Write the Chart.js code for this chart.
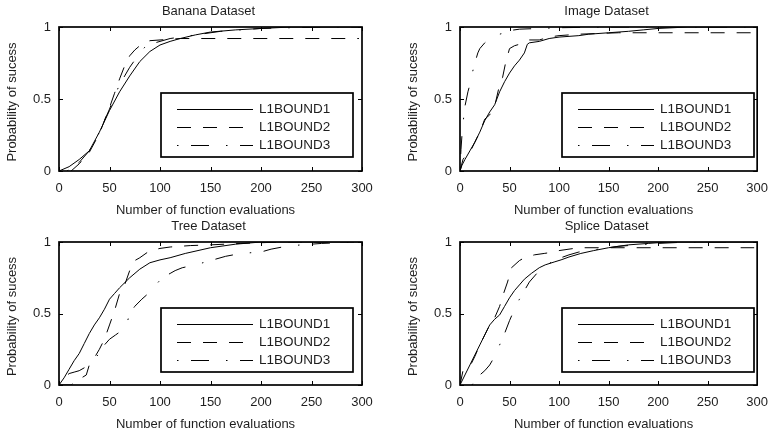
<!DOCTYPE html>
<html><head><meta charset="utf-8">
<script src="https://cdn.jsdelivr.net/npm/chart.js@4.4.0/dist/chart.umd.min.js"></script>
<style>
html,body{margin:0;padding:0;background:#fff;width:778px;height:436px;overflow:hidden}
canvas{position:absolute;left:0;top:0}
</style>
</head><body>
<canvas id="c0" width="778" height="436"></canvas>
<canvas id="c1" width="778" height="436"></canvas>
<canvas id="c2" width="778" height="436"></canvas>
<canvas id="c3" width="778" height="436"></canvas>
<script>
// ---- labels & ticks ----
const seriesLabels = ['L1BOUND1', 'L1BOUND2', 'L1BOUND3'];
const xTicks = [0, 50, 100, 150, 200, 250, 300];
const yTicks = [0, 0.5, 1];
const yTickLabels = ['0', '0.5', '1'];
const xTitle = 'Number of function evaluations';
const yTitle = 'Probability of sucess';

// ---- Banana Dataset ----
const banX1 = [0,10,20,30,40,50,60,70,80,90,100,110,120,135,150,175,200,230,297];
const banY1 = [0,0.03,0.08,0.14,0.27,0.42,0.55,0.66,0.76,0.83,0.875,0.9,0.92,0.945,0.965,0.98,0.99,1,1];
const banX2 = [12,20,30,40,50,55,60,65,70,75,80,85,90,100,110,120,297];
const banY2 = [0,0.05,0.13,0.26,0.44,0.54,0.64,0.73,0.8,0.84,0.87,0.89,0.905,0.91,0.915,0.92,0.92];
const banX3 = [8,15,20,30,40,50,55,60,65,70,75,80,85,90,100,110,120,140,160,180,200,230,260,297];
const banY3 = [0,0.03,0.06,0.14,0.27,0.43,0.52,0.6,0.66,0.72,0.77,0.82,0.86,0.88,0.9,0.92,0.93,0.95,0.97,0.98,0.99,0.995,1,1];

// ---- Image Dataset ----
const imgX1 = [0,2,5,10,15,20,25,30,35,40,45,50,55,60,65,68,70,80,90,100,120,130,150,170,185,200,230,297];
const imgY1 = [0,0.04,0.08,0.14,0.2,0.27,0.35,0.41,0.46,0.55,0.62,0.68,0.73,0.77,0.82,0.88,0.89,0.9,0.92,0.93,0.94,0.95,0.96,0.97,0.98,0.99,1,1];
const imgX2 = [0,3,5,10,15,20,25,30,35,40,43,46,50,55,60,70,80,90,100,120,140,160,297];
const imgY2 = [0,0.08,0.1,0.13,0.2,0.27,0.36,0.39,0.45,0.6,0.65,0.75,0.85,0.87,0.88,0.91,0.91,0.93,0.94,0.95,0.955,0.96,0.96];
const imgX3 = [0,1,2,3,5,8,10,12,15,18,20,25,30,35,40,45,50,60,80,100,150,297];
const imgY3 = [0.02,0.15,0.25,0.33,0.45,0.55,0.6,0.67,0.75,0.82,0.85,0.89,0.92,0.935,0.95,0.96,0.975,0.985,0.99,0.995,1,1];

// ---- Tree Dataset ----
const treX1 = [0,5,10,15,20,25,30,35,40,45,50,55,60,70,80,90,100,110,125,150,175,200,297];
const treY1 = [0,0.05,0.11,0.17,0.22,0.29,0.36,0.42,0.47,0.53,0.6,0.64,0.68,0.75,0.81,0.855,0.875,0.89,0.92,0.96,0.985,1,1];
const treX2 = [0,12,20,27,30,35,40,45,50,55,60,65,70,75,80,90,100,110,130,150,180,220,297];
const treY2 = [0,0,0.04,0.07,0.14,0.19,0.25,0.32,0.42,0.52,0.64,0.7,0.8,0.87,0.89,0.94,0.955,0.965,0.975,0.98,0.99,1,1];
const treX3 = [0,5,10,15,20,25,30,40,45,50,56,60,66,70,75,82,90,96,102,110,115,122,135,150,165,180,200,210,225,240,260,297];
const treY3 = [0,0.05,0.08,0.09,0.1,0.12,0.15,0.22,0.28,0.32,0.35,0.37,0.4,0.5,0.55,0.6,0.65,0.7,0.75,0.78,0.8,0.82,0.84,0.87,0.9,0.92,0.93,0.95,0.97,0.98,0.99,1];

// ---- Splice Dataset ----
const splX1 = [0,5,10,15,20,25,30,35,40,45,50,55,60,65,72,80,86,95,102,110,122,135,150,170,190,210,297];
const splY1 = [0,0.07,0.14,0.21,0.28,0.35,0.42,0.46,0.49,0.55,0.61,0.66,0.7,0.74,0.78,0.82,0.84,0.86,0.875,0.895,0.92,0.94,0.96,0.98,0.99,1,1];
const splX2 = [0,3,10,15,20,25,30,35,40,43,48,52,60,65,70,75,85,95,100,120,297];
const splY2 = [0,0.1,0.13,0.2,0.28,0.35,0.42,0.47,0.55,0.62,0.72,0.82,0.87,0.89,0.9,0.91,0.92,0.93,0.94,0.96,0.96];
const splX3 = [12,15,20,25,30,35,40,45,50,55,60,65,70,80,90,100,110,120,140,160,180,200,230,297];
const splY3 = [0,0.03,0.07,0.1,0.14,0.2,0.28,0.36,0.45,0.53,0.6,0.66,0.72,0.8,0.85,0.885,0.91,0.93,0.95,0.97,0.98,0.99,1,1];

// ---- presentation ----
const FONT = '"Liberation Sans", Arial, Helvetica, sans-serif';
const TEXT = '#1e1e1e';
const dashes = [[], [14, 12], [1.5, 12.5, 18, 17]];

const panels = [
  {id:'c0', title:'Banana Dataset', box:[59,27,362,171], xs:[banX1,banX2,banX3], ys:[banY1,banY2,banY3]},
  {id:'c1', title:'Image Dataset',  box:[460,27,765,171], xs:[imgX1,imgX2,imgX3], ys:[imgY1,imgY2,imgY3]},
  {id:'c2', title:'Tree Dataset',   box:[59,242,362,385], xs:[treX1,treX2,treX3], ys:[treY1,treY2,treY3]},
  {id:'c3', title:'Splice Dataset', box:[460,242,765,385], xs:[splX1,splX2,splX3], ys:[splY1,splY2,splY3]}
];

const decor = {
  id: 'decor',
  afterDraw(chart, args, opts) {
    const ctx = chart.ctx, a = chart.chartArea, sx = chart.scales.x, sy = chart.scales.y;
    ctx.save();
    // inward ticks
    ctx.strokeStyle = '#000'; ctx.lineWidth = 1; ctx.setLineDash([]);
    ctx.beginPath();
    xTicks.forEach(v => {
      const p = Math.round(sx.getPixelForValue(v)) + 0.5;
      ctx.moveTo(p, a.bottom); ctx.lineTo(p, a.bottom - 4);
      ctx.moveTo(p, a.top); ctx.lineTo(p, a.top + 4);
    });
    yTicks.forEach(v => {
      const p = Math.round(sy.getPixelForValue(v)) + 0.5;
      ctx.moveTo(a.left, p); ctx.lineTo(a.left + 4, p);
      ctx.moveTo(a.right, p); ctx.lineTo(a.right - 4, p);
    });
    ctx.stroke();
    // frame
    ctx.lineWidth = 1.7;
    ctx.strokeRect(a.left, a.top, a.right - a.left, a.bottom - a.top);
    // titles
    ctx.fillStyle = TEXT;
    ctx.font = '13px ' + FONT;
    ctx.textAlign = 'center'; ctx.textBaseline = 'middle';
    ctx.fillText(opts.title, (a.left + a.right) / 2 - 2, a.top - 16);
    ctx.fillText(xTitle, (a.left + a.right) / 2 - 5, a.bottom + 39);
    ctx.save();
    ctx.translate(a.left - 47, (a.top + a.bottom) / 2 + 3);
    ctx.rotate(-Math.PI / 2);
    ctx.fillText(yTitle, 0, 0);
    ctx.restore();
    // legend
    const lx = a.left + 102, ly = a.top + 66, lw = 192, lh = 64;
    ctx.fillStyle = '#fff'; ctx.fillRect(lx, ly, lw, lh);
    ctx.lineWidth = 1.7; ctx.strokeStyle = '#000';
    ctx.strokeRect(lx, ly, lw, lh);
    chart.data.datasets.forEach((ds, i) => {
      const yy = Math.round(ly + 16 + 18 * i) + 0.5;
      ctx.setLineDash(ds.borderDash || []);
      ctx.lineWidth = 1;
      ctx.beginPath(); ctx.moveTo(lx + 16, yy); ctx.lineTo(lx + 92, yy); ctx.stroke();
      ctx.setLineDash([]);
      ctx.fillStyle = TEXT; ctx.font = '13.5px ' + FONT;
      ctx.textAlign = 'left'; ctx.textBaseline = 'middle';
      ctx.fillText(ds.label, lx + 98, yy);
    });
    ctx.restore();
  }
};

panels.forEach(p => {
  const [L, T, R, B] = p.box;
  const yW = 50, xH = 30;
  new Chart(document.getElementById(p.id), {
    type: 'line',
    data: {
      datasets: [0, 1, 2].map(i => ({
        label: seriesLabels[i],
        data: p.xs[i].map((x, j) => ({x: x, y: p.ys[i][j]})),
        borderColor: '#000', borderWidth: 1, borderDash: dashes[i],
        pointRadius: 0, tension: 0, fill: false
      }))
    },
    options: {
      responsive: false, animation: false, events: [],
      layout: {padding: {left: L - yW, top: T, right: 778 - R, bottom: 436 - B - xH}},
      plugins: {legend: {display: false}, tooltip: {enabled: false}, decor: {title: p.title}},
      scales: {
        x: {
          type: 'linear', min: 0, max: 300,
          afterFit(s) { s.height = xH; },
          afterBuildTicks(s) { s.ticks = xTicks.map(v => ({value: v})); },
          grid: {display: false, drawTicks: false}, border: {display: false},
          ticks: {font: {family: FONT, size: 13}, color: TEXT, padding: 10, maxRotation: 0, autoSkip: false,
                  callback: v => String(v)}
        },
        y: {
          type: 'linear', min: 0, max: 1,
          afterFit(s) { s.width = yW; },
          afterBuildTicks(s) { s.ticks = yTicks.map(v => ({value: v})); },
          grid: {display: false, drawTicks: false}, border: {display: false},
          ticks: {font: {family: FONT, size: 13}, color: TEXT, padding: 8, autoSkip: false,
                  callback: v => { const k = yTicks.indexOf(v); return k >= 0 ? yTickLabels[k] : String(v); }}
        }
      }
    },
    plugins: [decor]
  });
});
</script>
</body></html>
